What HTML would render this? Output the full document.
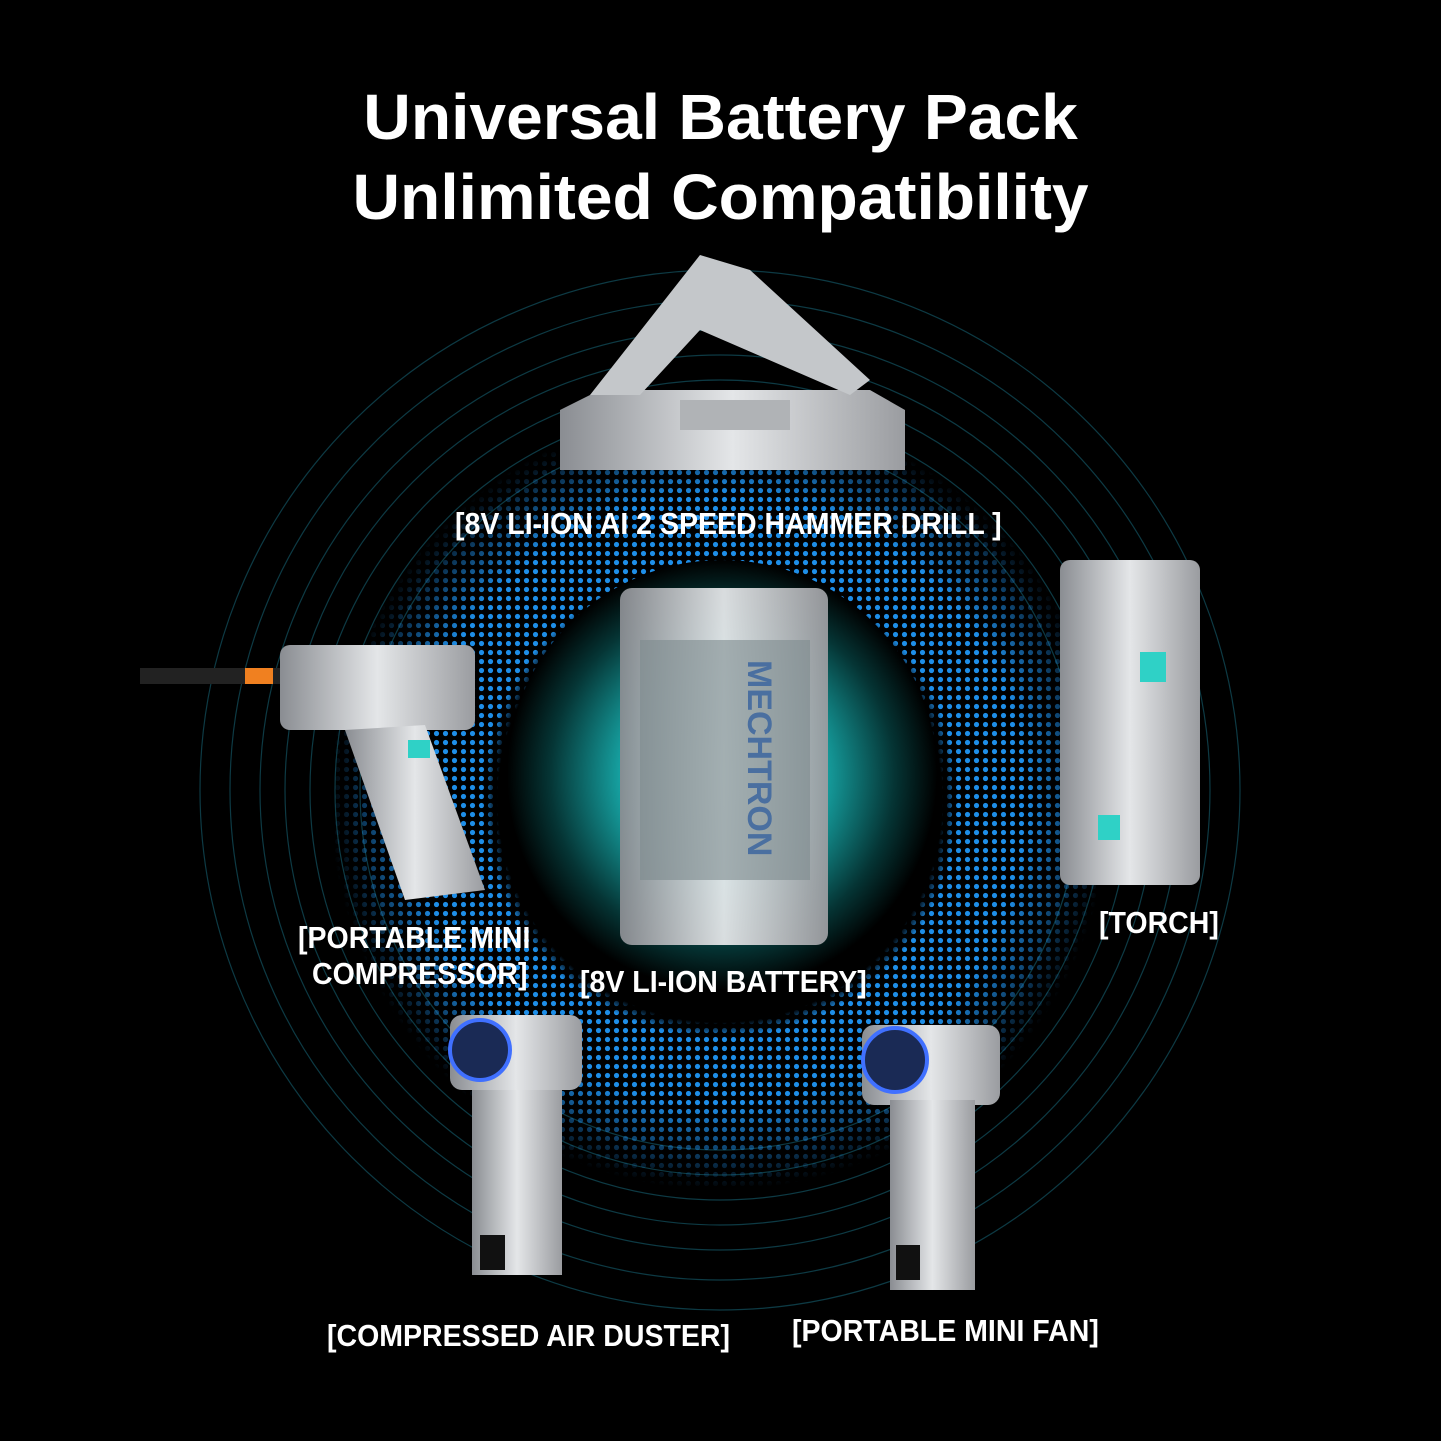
<!DOCTYPE html>
<html><head><meta charset="utf-8"><style>
html,body{margin:0;padding:0;background:#000;}
body{width:1441px;height:1441px;position:relative;overflow:hidden;font-family:"Liberation Sans",sans-serif;}
.t{position:absolute;left:0;width:1441px;text-align:center;color:#fff;font-weight:bold;font-size:64px;transform:scaleX(1.03);transform-origin:720px 0;}
.l{position:absolute;color:#fff;font-family:"Liberation Sans",sans-serif;font-weight:bold;font-size:31px;white-space:nowrap;line-height:36px;transform:scaleX(0.92);transform-origin:0 0;}
svg{position:absolute;left:0;top:0;}
</style></head><body>
<svg width="1441" height="1441" viewBox="0 0 1441 1441">
<defs>
<radialGradient id="glow" cx="722" cy="775" r="215" gradientUnits="userSpaceOnUse">
<stop offset="0" stop-color="#3fe8e0"/><stop offset="0.45" stop-color="#17a8a8"/><stop offset="0.8" stop-color="#053535"/><stop offset="1" stop-color="#000"/></radialGradient>
<pattern id="dots" width="9" height="9" patternUnits="userSpaceOnUse"><circle cx="4.5" cy="4.5" r="2.6" fill="#1e8ee8"/></pattern>
<radialGradient id="rf" cx="720" cy="800" r="390" gradientUnits="userSpaceOnUse">
<stop offset="0.57" stop-color="#000"/><stop offset="0.61" stop-color="#fff"/><stop offset="0.78" stop-color="#fff"/><stop offset="1" stop-color="#000"/></radialGradient>
<mask id="m"><rect width="1441" height="1441" fill="url(#rf)"/></mask>
<linearGradient id="metal" x1="0" y1="0" x2="1" y2="0"><stop offset="0" stop-color="#8a8d92"/><stop offset="0.5" stop-color="#e4e6e8"/><stop offset="1" stop-color="#9a9ca0"/></linearGradient>
</defs>
<g fill="none" stroke="#0d3a44" stroke-width="1.2">
<circle cx="720" cy="790" r="360"/><circle cx="720" cy="790" r="385"/><circle cx="720" cy="790" r="410"/><circle cx="720" cy="790" r="435"/><circle cx="720" cy="790" r="460"/><circle cx="720" cy="790" r="490"/><circle cx="720" cy="790" r="520"/>
</g>
<rect width="1441" height="1441" fill="url(#dots)" mask="url(#m)"/>
<circle cx="722" cy="775" r="215" fill="url(#glow)"/>
<rect x="620" y="588" width="208" height="357" rx="12" fill="url(#metal)" opacity="0.95"/>
<rect x="640" y="640" width="170" height="240" fill="#7d8a8e" opacity="0.6"/>
<text x="0" y="0" transform="translate(748,660) rotate(90)" font-family="Liberation Sans" font-weight="bold" font-size="34" fill="#4a6fa0">MECHTRON</text>
<polygon points="560,410 600,390 870,390 905,410 905,470 560,470" fill="url(#metal)"/>
<rect x="680" y="400" width="110" height="30" fill="#b0b3b6"/>
<polygon points="590,395 700,255 750,270 870,380 850,395 700,330 640,395" fill="#c4c7ca"/>
<rect x="1060" y="560" width="140" height="325" rx="10" fill="url(#metal)"/>
<rect x="1140" y="652" width="26" height="30" fill="#2fd1c6"/>
<rect x="1098" y="815" width="22" height="25" fill="#2fd1c6"/>
<rect x="140" y="668" width="145" height="16" fill="#222"/><rect x="245" y="668" width="28" height="16" fill="#f08020"/>
<rect x="280" y="645" width="195" height="85" rx="10" fill="url(#metal)"/>
<polygon points="345,730 425,725 485,890 405,900" fill="url(#metal)"/>
<rect x="408" y="740" width="22" height="18" fill="#2fd1c6"/>
<rect x="450" y="1015" width="132" height="75" rx="12" fill="url(#metal)"/>
<circle cx="480" cy="1050" r="30" fill="#1a2a55" stroke="#4070ff" stroke-width="4"/>
<rect x="472" y="1090" width="90" height="185" fill="url(#metal)"/>
<rect x="480" y="1235" width="25" height="35" fill="#111"/>
<rect x="862" y="1025" width="138" height="80" rx="12" fill="url(#metal)"/>
<circle cx="895" cy="1060" r="32" fill="#1a2a55" stroke="#4070ff" stroke-width="4"/>
<rect x="890" y="1100" width="85" height="190" fill="url(#metal)"/>
<rect x="896" y="1245" width="24" height="35" fill="#111"/>
</svg>
<div class="t" style="top:80px;">Universal Battery Pack</div>
<div class="t" style="top:160px;">Unlimited Compatibility</div>
<div class="l" style="left:455px;top:506px;">[8V LI-ION AI 2 SPEED HAMMER DRILL ]</div>
<div class="l" style="left:1099px;top:905px;">[TORCH]</div>
<div class="l" style="left:298px;top:920px;">[PORTABLE MINI</div>
<div class="l" style="left:312px;top:956px;">COMPRESSOR]</div>
<div class="l" style="left:580px;top:964px;">[8V LI-ION BATTERY]</div>
<div class="l" style="left:327px;top:1318px;">[COMPRESSED AIR DUSTER]</div>
<div class="l" style="left:792px;top:1313px;">[PORTABLE MINI FAN]</div>
</body></html>
